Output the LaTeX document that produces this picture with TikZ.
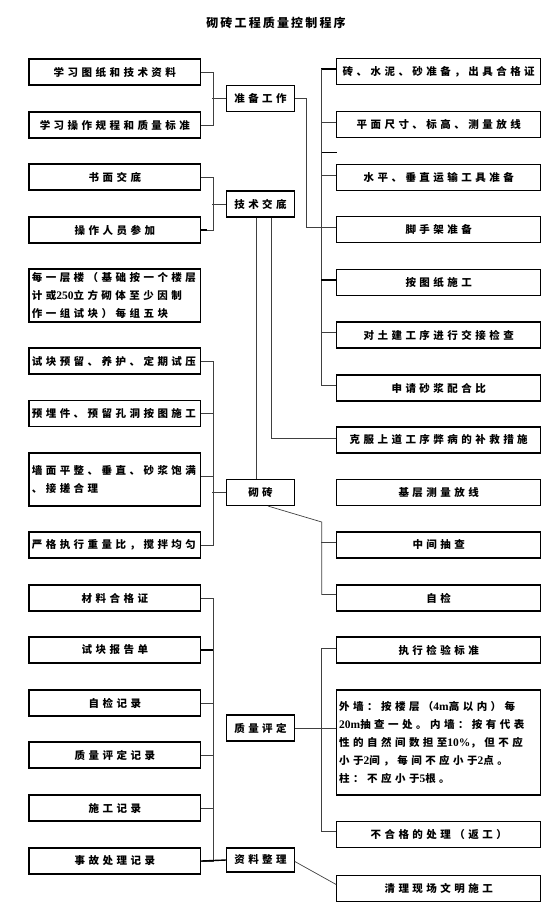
\documentclass[tikz,border=0pt]{standalone}
\usepackage{fontspec}
\newfontfamily\cjk[LetterSpace=33]{Noto Sans CJK SC}
\newfontfamily\cjktitle[LetterSpace=18]{Noto Sans CJK SC}
\newfontfamily\lat{Liberation Serif}
\newcommand{\dg}[1]{{\lat\bfseries\fontsize{11.5}{18}\selectfont #1}}
\usetikzlibrary{calc}
\begin{document}
\begin{tikzpicture}[x=1pt,y=-1pt,
  box/.style={draw=black, line width=1.1pt, minimum height=26pt, inner sep=1pt,
    font=\cjk\bfseries\fontsize{10.5}{18}\selectfont, fill=white},
  lbox/.style={box, minimum width=171.7pt},
  cbox/.style={box, minimum width=67.6pt},
  rbox/.style={box, minimum width=204pt},
  conn/.style={draw=black!75, line width=0.7pt},
  thk/.style={draw=black, line width=1.4pt},
]
\useasboundingbox (0,0) rectangle (555,923);

\node[font=\cjktitle\bfseries\fontsize{12}{14}\selectfont] (title) at (276,23) {砌砖工程质量控制程序};

% left boxes
\node[lbox] (L1) at (114.85,72) {学习图纸和技术资料};
\node[lbox] (L2) at (114.85,125) {学习操作规程和质量标准};
\node[lbox] (L3) at (114.85,177) {书面交底};
\node[lbox] (L4) at (114.85,230) {操作人员参加};
\node[lbox, minimum height=53pt, text width=166pt, align=left] (L5) at (114.85,295.5)
  {每一层楼（基础按一个楼层\\计或\dg{250}立方砌体至少因制\\作一组试块）每组五块};
\node[lbox, text width=166pt, align=left] (L6) at (114.85,361) {试块预留、养护、定期试压};
\node[lbox, text width=166pt, align=left] (L7) at (114.85,413.5) {预埋件、预留孔洞按图施工};
\node[lbox, minimum height=53pt, text width=166pt, align=left] (L8) at (114.85,479.5)
  {墙面平整、垂直、砂浆饱满\\、接搓合理};
\node[lbox, text width=166pt, align=left] (L9) at (114.85,545) {严格执行重量比，搅拌均匀};
\node[lbox] (L10) at (114.85,598) {材料合格证};
\node[lbox] (L11) at (114.85,650) {试块报告单};
\node[lbox] (L12) at (114.85,703) {自检记录};
\node[lbox] (L13) at (114.85,755) {质量评定记录};
\node[lbox] (L14) at (114.85,808) {施工记录};
\node[lbox] (L15) at (114.85,861) {事故处理记录};

% centre boxes
\node[cbox] (C1) at (260.5,98.5) {准备工作};
\node[cbox] (C2) at (260.5,204) {技术交底};
\node[cbox] (C3) at (260.5,492.5) {砌砖};
\node[cbox] (C4) at (260.5,728) {质量评定};
\node[cbox, minimum height=24pt] (C5) at (260.5,860) {资料整理};

% right boxes
\node[rbox] (R1) at (438.7,71.5) {砖、水泥、砂准备，出具合格证};
\node[rbox] (R2) at (438.7,124.5) {平面尺寸、标高、测量放线};
\node[rbox] (R3) at (438.7,177.5) {水平、垂直运输工具准备};
\node[rbox] (R4) at (438.7,229.5) {脚手架准备};
\node[rbox] (R5) at (438.7,282.5) {按图纸施工};
\node[rbox] (R6) at (438.7,335) {对土建工序进行交接检查};
\node[rbox] (R7) at (438.7,388) {申请砂浆配合比};
\node[rbox] (R8) at (438.7,440) {克服上道工序弊病的补救措施};
\node[rbox] (R9) at (438.7,492.5) {基层测量放线};
\node[rbox] (R10) at (438.7,545) {中间抽查};
\node[rbox] (R11) at (438.7,598) {自检};
\node[rbox] (R12) at (438.7,650) {执行检验标准};
\node[rbox, minimum height=105pt, text width=199pt, align=left] (R13) at (438.7,742.5)
  {外墙：按楼层（\dg{4m}高以内）每\\\dg{20m}抽查一处。内墙：按有代表\\性的自然间数担至\dg{10\%}，但不应\\小于\dg{2}间，每间不应小于\dg{2}点。\\柱：不应小于\dg{5}根。};
\node[rbox] (R14) at (438.7,834.5) {不合格的处理（返工）};
\node[rbox] (R15) at (438.7,888.5) {清理现场文明施工};

% group: 准备工作
\draw[conn] (L1.east) -- ++(12,0) |- (L2.east);
\draw[conn] (C1.west) -- ++(-14,0);
% group: 技术交底
\draw[conn] (L3.east) -- ++(12,0) |- (L4.east);
\draw[thk] (L4.east) -- ++(6,0);
\draw[conn] (C2.west) -- ++(-14,0);
% right bracket 1
\draw[thk] ([yshift=2.5pt]R1.west) -- ++(-15,0);
\draw[conn] ([yshift=2.5pt]R1.west) ++(-15,0) |- ([yshift=3pt]R7.west);
\foreach \r in {R2,R3,R6} \draw[conn] ([yshift=2.5pt]\r.west) -- ++(-15,0);
\draw[thk] ([yshift=2.5pt]R5.west) -- ++(-15,0);
\coordinate (stub) at (321.7,152.7);
\draw[thk] (stub) -- ++(15,0);
\draw[conn] (C1.east) -- ++(11.4,0) |- ([yshift=2.5pt]R4.west);
% 技术交底 downwards
\draw[conn] ([xshift=-4.5pt]C2.south) -- ([xshift=-4.5pt]C3.north);
\draw[conn] ([xshift=11.2pt]C2.south) |- ([yshift=2pt]R8.west);
% group: 砌砖
\draw[conn] (L6.east) -- ++(12,0) |- (L9.east);
\draw[conn] (L7.east) -- ++(12,0);
\draw[conn] ([yshift=3pt]L8.east) -- ++(12,0);
\draw[conn] (C3.west) -- ++(-14,0);
\coordinate (b2) at (321.7,522);
\draw[conn] ([xshift=7.5pt]C3.south) -- (b2) |- ([yshift=3.5pt]R11.west);
\draw[conn] ([yshift=3pt]R10.west) -- ++(-15,0);
% group: 资料整理
\draw[conn] (L10.east) -- ++(12,0) |- (L15.east);
\draw[thk] (L11.east) -- ++(12,0);
\foreach \l in {L12,L13,L14} \draw[conn] (\l.east) -- ++(12,0);
\draw[thk] (L15.east) -- (C5.west);
\draw[conn] ([yshift=-1.5pt]C5.east) -- ([yshift=4pt]R15.west);
% 质量评定
\draw[conn] (C4.east) -- (C4.east -| R13.west);
\draw[conn] ([yshift=2pt]R12.west) -- ++(-15,0) |- ([yshift=3pt]R14.west);
\end{tikzpicture}
\end{document}
